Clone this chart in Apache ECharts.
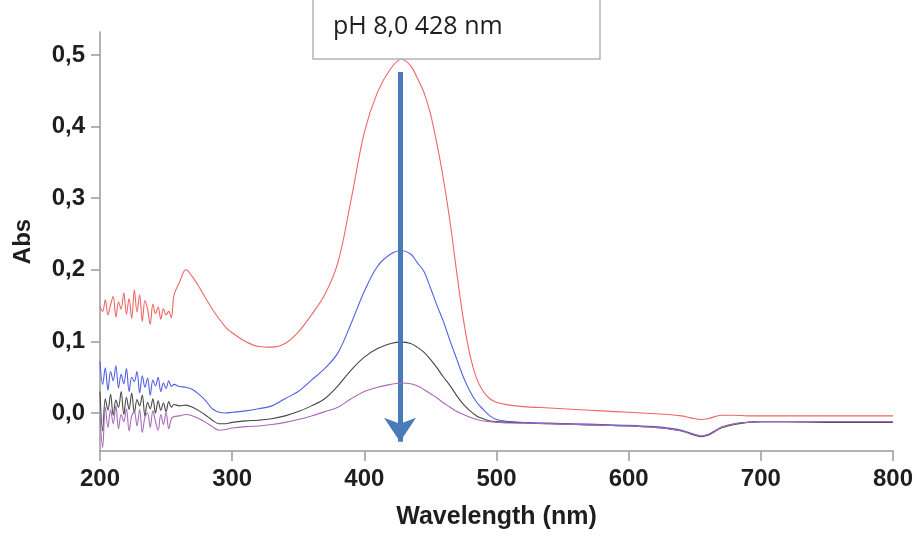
<!DOCTYPE html>
<html>
<head>
<meta charset="utf-8">
<script src="https://cdn.jsdelivr.net/npm/echarts@6/dist/echarts.min.js"></script>
<style>html,body{margin:0;padding:0;background:#fff}#c{width:919px;height:540px}</style>
</head>
<body>
<div id="c"></div>
<script>
// ---- data ----
var wlNoise = [200,202,204,206,208,210,212,214,216,218,220,222,224,226,228,230,232,234,236,238,240,242,244,246,248,250,252,254];
var wlSmooth = [256,260,265,270,275,280,285,290,295,300,310,320,330,340,350,360,370,380,390,400,410,420,428,435,440,445,450,455,460,465,470,475,480,485,490,495,500,510,520,540,560,580,600,620,630,640,645,650,655,660,665,670,680,690,700,720,750,800];

var redNoise = [0.148,0.142,0.158,0.137,0.151,0.163,0.134,0.155,0.145,0.168,0.138,0.160,0.132,0.172,0.141,0.165,0.128,0.157,0.145,0.124,0.152,0.139,0.148,0.131,0.146,0.137,0.142,0.133];
var blueNoise = [0.072,0.040,0.063,0.032,0.058,0.045,0.066,0.035,0.054,0.041,0.062,0.030,0.050,0.044,0.058,0.028,0.052,0.036,0.049,0.025,0.046,0.038,0.050,0.030,0.042,0.034,0.045,0.037];
var blackNoise = [0.030,-0.025,0.020,0.004,0.026,-0.003,0.018,0.008,0.030,-0.002,0.022,0.005,0.028,0.000,0.019,0.010,0.025,-0.004,0.015,0.006,0.020,0.000,0.017,0.004,0.014,0.002,0.016,0.008];
var purpleNoise = [-0.005,-0.048,0.008,-0.020,0.004,-0.015,0.010,-0.022,-0.002,-0.012,0.006,-0.025,-0.004,0.002,-0.018,0.005,-0.027,-0.006,0.000,-0.020,0.003,-0.012,-0.024,-0.002,-0.016,0.001,-0.022,-0.008];

var redSmooth = [0.165,0.182,0.200,0.190,0.176,0.160,0.145,0.132,0.120,0.112,0.100,0.093,0.092,0.097,0.113,0.137,0.165,0.210,0.298,0.392,0.448,0.481,0.494,0.485,0.468,0.448,0.418,0.375,0.325,0.265,0.195,0.130,0.080,0.048,0.030,0.020,0.015,0.011,0.009,0.007,0.005,0.003,0.001,-0.001,-0.002,-0.004,-0.006,-0.008,-0.009,-0.008,-0.005,-0.003,-0.003,-0.004,-0.004,-0.004,-0.004,-0.004];
var blueSmooth = [0.040,0.037,0.036,0.033,0.026,0.017,0.006,0.001,0.000,0.001,0.003,0.006,0.010,0.020,0.030,0.046,0.062,0.084,0.125,0.170,0.205,0.222,0.227,0.222,0.210,0.198,0.175,0.150,0.127,0.100,0.075,0.050,0.030,0.015,0.005,-0.004,-0.009,-0.012,-0.013,-0.014,-0.015,-0.016,-0.017,-0.019,-0.021,-0.024,-0.027,-0.030,-0.032,-0.030,-0.025,-0.020,-0.015,-0.013,-0.012,-0.012,-0.012,-0.012];
var blackSmooth = [0.012,0.010,0.011,0.008,0.003,-0.003,-0.010,-0.015,-0.015,-0.013,-0.011,-0.010,-0.008,-0.004,0.002,0.010,0.020,0.038,0.060,0.078,0.090,0.097,0.099,0.097,0.092,0.085,0.075,0.063,0.050,0.038,0.024,0.012,0.003,-0.004,-0.008,-0.011,-0.012,-0.013,-0.014,-0.015,-0.016,-0.017,-0.018,-0.020,-0.022,-0.025,-0.028,-0.031,-0.033,-0.031,-0.026,-0.021,-0.016,-0.013,-0.012,-0.012,-0.013,-0.013];
var purpleSmooth = [-0.005,-0.004,-0.002,-0.004,-0.008,-0.013,-0.019,-0.024,-0.023,-0.021,-0.019,-0.018,-0.016,-0.013,-0.009,-0.004,0.002,0.008,0.020,0.030,0.036,0.040,0.042,0.041,0.038,0.033,0.027,0.021,0.014,0.008,0.002,-0.002,-0.006,-0.009,-0.011,-0.012,-0.013,-0.014,-0.014,-0.015,-0.016,-0.017,-0.018,-0.020,-0.022,-0.025,-0.028,-0.030,-0.032,-0.030,-0.025,-0.020,-0.015,-0.013,-0.012,-0.012,-0.012,-0.012];

var yTicks = [0, 0.1, 0.2, 0.3, 0.4, 0.5];
var legendText = 'pH 8,0 428 nm';
var arrowFrom = [427, 0.476];
var arrowTo = [427, -0.040];

function build(noise, smooth) {
  var out = [];
  for (var i = 0; i < wlNoise.length; i++) out.push([wlNoise[i], noise[i]]);
  for (var j = 0; j < wlSmooth.length; j++) out.push([wlSmooth[j], smooth[j]]);
  return out;
}

var chart = echarts.init(document.getElementById('c'), null, {renderer: 'canvas'});
var labelFont = {fontFamily: 'Liberation Sans, Arial, sans-serif', fontWeight: 'bold', fontSize: 24, color: '#1e1e1e'};
function line(name, color, noise, smooth, z) {
  return {
    name: name, type: 'line', data: build(noise, smooth), showSymbol: false, symbol: 'none',
    smooth: 0.35, z: z,
    lineStyle: {color: color, width: 1.1}, animation: false
  };
}
var series = [
  line('red', '#f06565', redNoise, redSmooth, 2),
  line('blue', '#5060e4', blueNoise, blueSmooth, 3),
  line('black', '#474747', blackNoise, blackSmooth, 4),
  line('purple', '#a86ab6', purpleNoise, purpleSmooth, 5)
];
series.push({
  type: 'line', data: [], z: 10, animation: false,
  markLine: {
    silent: true, animation: false,
    symbol: ['none', 'arrow'], symbolSize: 24,
    label: {show: false},
    lineStyle: {color: '#4a7bb8', width: 5, type: 'solid', opacity: 1},
    data: [[{coord: arrowFrom}, {coord: arrowTo}]]
  }
});

chart.setOption({
  animation: false,
  backgroundColor: '#ffffff',
  grid: {left: 100, right: 26, top: 32, bottom: 89},
  xAxis: {
    type: 'value', min: 200, max: 800, interval: 100,
    name: 'Wavelength (nm)', nameLocation: 'middle', nameGap: 54,
    nameTextStyle: {fontFamily: 'Liberation Sans, Arial, sans-serif', fontWeight: 'bold', fontSize: 25, color: '#1e1e1e'},
    axisLine: {show: true, onZero: false, lineStyle: {color: '#9a9a9a', width: 1.5}},
    axisTick: {show: true, length: 10, lineStyle: {color: '#9a9a9a', width: 1.5}},
    axisLabel: Object.assign({margin: 16}, labelFont),
    splitLine: {show: false}
  },
  yAxis: {
    type: 'value', min: -0.053, max: 0.532,
    name: 'Abs', nameLocation: 'middle', nameGap: 65, nameRotate: 90,
    nameTextStyle: {fontFamily: 'Liberation Sans, Arial, sans-serif', fontWeight: 'bold', fontSize: 24, color: '#1e1e1e'},
    axisLine: {show: true, onZero: false, lineStyle: {color: '#9a9a9a', width: 1.5}},
    axisTick: {show: true, length: 9, customValues: yTicks, lineStyle: {color: '#9a9a9a', width: 1.5}},
    axisLabel: Object.assign({margin: 15, customValues: yTicks, formatter: function (v) { return v.toFixed(1).replace('.', ','); }}, labelFont),
    splitLine: {show: false}
  },
  graphic: [
    {type: 'rect', z: 100, shape: {x: 313, y: -2, width: 287, height: 61},
     style: {fill: '#ffffff', stroke: '#b4b4b4', lineWidth: 1.5}},
    {type: 'text', z: 101, left: 333, top: 14,
     style: {text: legendText, fontFamily: 'Open Sans, sans-serif', fontSize: 25, fill: '#1e1e1e'}}
  ],
  series: series
});
</script>
</body>
</html>
